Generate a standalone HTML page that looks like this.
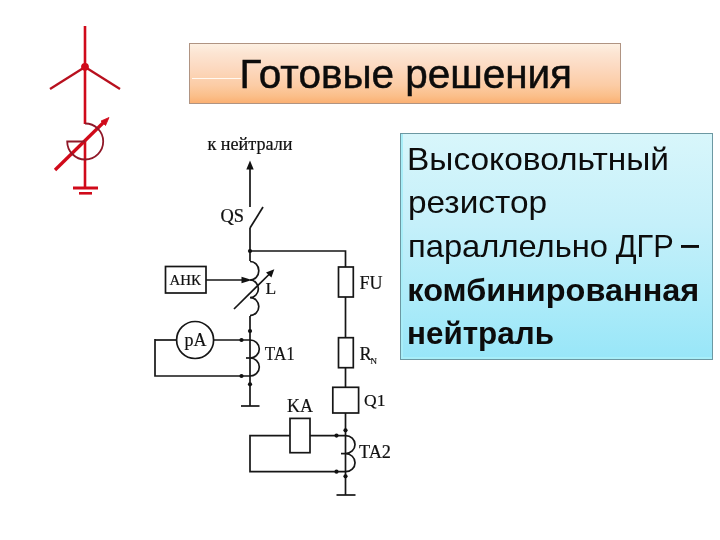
<!DOCTYPE html>
<html><head><meta charset="utf-8">
<style>
html,body{margin:0;padding:0;background:#fff;}
body{width:720px;height:540px;position:relative;overflow:hidden;font-family:"Liberation Sans",sans-serif;}
#title{position:absolute;left:189px;top:43px;width:430px;height:59px;border:1px solid #b09482;
 background:linear-gradient(to bottom,#fdf0e2 0%,#fce5d3 15%,#fcd9c0 40%,#fccca5 70%,#fbbf8a 88%,#fbb072 100%);}
#title .t{position:absolute;left:0;top:0;white-space:nowrap;font-size:39px;color:#000;line-height:1;}
#box{position:absolute;left:400px;top:133px;width:311px;height:225px;border:1px solid #6c98a2;box-shadow:inset 2px -2px 0 #a8eef8;
 background:linear-gradient(to bottom,#d8f6fb 0%,#c5f0fa 40%,#acebf9 75%,#98e6f8 100%);}
.ln{position:absolute;left:0;white-space:nowrap;font-size:31.5px;color:#0c0c0c;line-height:1;}
.b{font-weight:bold;}
svg{position:absolute;left:0;top:0;will-change:transform;}
.lab{font-family:"Liberation Serif",serif;fill:#111;}
</style></head>
<body>
<div id="title"><div style="position:absolute;left:2px;top:34px;width:49px;height:1.3px;background:#fff8f0"></div></div>
<div id="box"></div>
<svg width="720" height="540" viewBox="0 0 720 540">
 <g font-family="Liberation Sans" fill="#0c0c0c">
  <text x="239.5" y="87.5" font-size="40" textLength="332.5" lengthAdjust="spacingAndGlyphs" stroke="#0c0c0c" stroke-width="0.5">Готовые решения</text>
  <text x="407" y="170.4" font-size="32" textLength="262" lengthAdjust="spacingAndGlyphs">Высоковольтный</text>
  <text x="408" y="213" font-size="32" textLength="139" lengthAdjust="spacingAndGlyphs">резистор</text>
  <text x="408" y="257" font-size="32" textLength="200" lengthAdjust="spacingAndGlyphs">параллельно</text>
  <text x="615.7" y="257" font-size="32" textLength="58" lengthAdjust="spacingAndGlyphs">ДГР</text>
  <rect x="681" y="245" width="18" height="2.9"/>
  <text x="407.3" y="300.7" font-size="32" font-weight="bold" textLength="292" lengthAdjust="spacingAndGlyphs">комбинированная</text>
  <text x="407" y="343.7" font-size="32" font-weight="bold" textLength="147" lengthAdjust="spacingAndGlyphs">нейтраль</text>
 </g>
 <!-- red symbol -->
 <g stroke="#d00a1a" fill="none" stroke-linecap="butt">
  <line x1="85" y1="26" x2="85" y2="124" stroke-width="2.6"/>
  <line x1="85" y1="67" x2="50" y2="89" stroke-width="2.3" stroke="#b8101e"/>
  <line x1="85" y1="67" x2="120" y2="89" stroke-width="2.3" stroke="#b8101e"/>
  <line x1="85" y1="141" x2="85" y2="188" stroke-width="2.6"/>
  <line x1="73" y1="188" x2="98" y2="188" stroke-width="3"/>
  <line x1="79" y1="193.3" x2="92" y2="193.3" stroke-width="2.6"/>
  <line x1="55" y1="170" x2="104" y2="122" stroke-width="3.3"/>
 </g>
 <circle cx="85" cy="66.8" r="3.9" fill="#d00a1a"/>
 <polygon points="109,117.5 101,121 105.5,125.5" fill="#d00a1a" stroke="#d00a1a" stroke-width="0.8" stroke-linejoin="round"/>
 <path d="M85 123.5 A18 18 0 1 1 67.2 141.5 L85 141.5" stroke="#901828" stroke-width="1.8" fill="none"/>

 <!-- circuit -->
 <g stroke="#161616" stroke-width="1.7" fill="none">
  <line x1="250" y1="167" x2="250" y2="207"/>
  <line x1="250" y1="228" x2="263" y2="207"/>
  <line x1="250" y1="228" x2="250" y2="261"/>
  <polyline points="250,251 345.5,251 345.5,267"/>
  <path d="M250 261.5 A8.8 9.25 0 0 1 250 280 A8.4 8.8 0 0 1 250 297.6 A8.8 9 0 0 1 250 315.6"/>
  <line x1="250" y1="316" x2="250" y2="340"/>
  <path d="M250 340 A9.3 9 0 0 1 250 358 A9.3 9 0 0 1 250 376"/>
  <line x1="246" y1="358" x2="250" y2="358"/>
  <line x1="250" y1="340" x2="250" y2="376"/>
  <line x1="250" y1="376" x2="250" y2="406"/>
  <line x1="241" y1="406" x2="259.5" y2="406"/>
  <rect x="165.5" y="266.5" width="40.5" height="26.5"/>
  <line x1="206" y1="280" x2="244" y2="280"/>
  <line x1="234" y1="309" x2="269.5" y2="274"/>
  <circle cx="195.1" cy="340" r="18.5"/>
  <line x1="155" y1="340" x2="176.6" y2="340"/>
  <line x1="213.6" y1="340" x2="250" y2="340"/>
  <polyline points="250,376 155,376 155,339.1"/>
  <!-- right branch -->
  <rect x="338.5" y="267" width="14.8" height="30"/>
  <line x1="345.5" y1="297" x2="345.5" y2="337.7"/>
  <rect x="338.5" y="337.7" width="14.8" height="30"/>
  <line x1="345.5" y1="367.7" x2="345.5" y2="387.3"/>
  <rect x="332.8" y="387.3" width="25.8" height="25.7"/>
  <line x1="345.5" y1="413" x2="345.5" y2="495"/>
  <path d="M345.5 435.6 A9.5 9 0 0 1 345.5 453.6 A9.5 9 0 0 1 345.5 471.7"/>
  <line x1="341" y1="453.6" x2="345.5" y2="453.6"/>
  <line x1="336.5" y1="495" x2="355.5" y2="495"/>
  <rect x="290" y="418.4" width="20" height="34.3"/>
  <polyline points="290,435.6 250,435.6 250,471.7 345.5,471.7"/>
  <line x1="310" y1="435.6" x2="345.5" y2="435.6"/>
 </g>
 <g fill="#111">
  <polygon points="250,160.5 246.3,169.5 253.7,169.5"/>
  <polygon points="252,280 241.5,276.8 241.5,283.2"/>
  <polygon points="274.3,269.3 266,272.4 271.4,277.6"/>
  <circle cx="250" cy="251" r="2.1"/>
  <circle cx="250" cy="331" r="2.1"/>
  <circle cx="250" cy="384.3" r="2.1"/>
  <circle cx="241.5" cy="340" r="2.1"/>
  <circle cx="241.5" cy="376" r="2.1"/>
  <circle cx="345.5" cy="430.3" r="2.1"/>
  <circle cx="345.5" cy="476.3" r="2.1"/>
  <circle cx="336.5" cy="435.6" r="2.1"/>
  <circle cx="336.5" cy="471.7" r="2.1"/>
 </g>
 <g class="lab" stroke="#111" stroke-width="0.2">
  <text x="207.5" y="149.5" font-size="18" textLength="85" lengthAdjust="spacingAndGlyphs">к нейтрали</text>
  <text x="220.5" y="221.5" font-size="18" textLength="23.5" lengthAdjust="spacingAndGlyphs">QS</text>
  <text x="359.5" y="289" font-size="18">FU</text>
  <text x="169.5" y="285" font-size="15.3" textLength="31.5" lengthAdjust="spacingAndGlyphs">АНК</text>
  <text x="265.5" y="293.5" font-size="17.5">L</text>
  <text x="184.5" y="345.6" font-size="18">pA</text>
  <text x="264.8" y="359.7" font-size="19" textLength="30" lengthAdjust="spacingAndGlyphs">TA1</text>
  <text x="359.5" y="359.8" font-size="18">R</text>
  <text x="370.5" y="363.5" font-size="9">N</text>
  <text x="364" y="406.4" font-size="17.5">Q1</text>
  <text x="287" y="411.7" font-size="18">KA</text>
  <text x="359" y="458.3" font-size="18" textLength="32" lengthAdjust="spacingAndGlyphs">TA2</text>
 </g>
</svg>
</body></html>
